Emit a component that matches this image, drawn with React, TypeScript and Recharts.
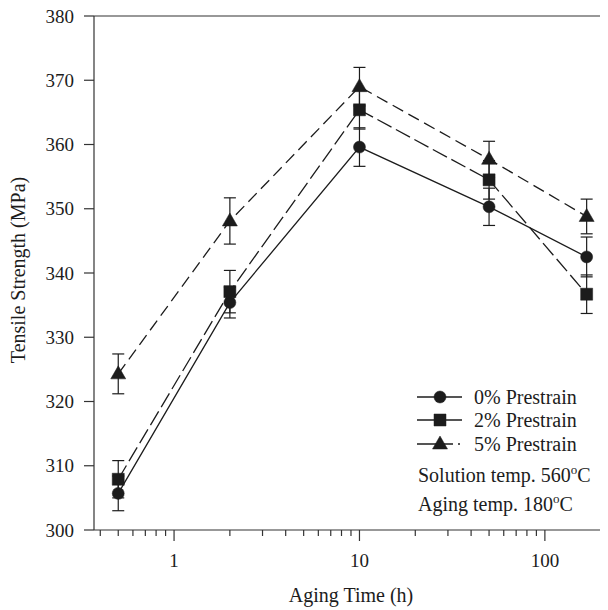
import React from 'react';
import { LineChart, Line, XAxis, YAxis, ErrorBar, ReferenceLine } from 'recharts';

const agingTime = [0.5, 2, 10, 50, 168];
const prestrain0 = [305.7, 335.4, 359.6, 350.3, 342.5];
const prestrain2 = [307.9, 337.1, 365.4, 354.5, 336.7];
const prestrain5 = [324.3, 348.1, 369.0, 357.7, 348.8];
const err0 = [2.7, 2.4, 3.0, 2.9, 3.1];
const err2 = [2.9, 3.3, 3.0, 3.0, 3.0];
const err5 = [3.1, 3.6, 3.0, 2.8, 2.7];

const yTicks = [300, 310, 320, 330, 340, 350, 360, 370, 380];
const xTicks = [0.4, 0.5, 0.6, 0.7, 0.8, 0.9, 1, 2, 3, 4, 5, 6, 7, 8, 9, 10, 20, 30, 40, 50, 60, 70, 80, 90, 100, 200];
const majorXTicks = [1, 10, 100];
const seriesNames = ['0% Prestrain', '2% Prestrain', '5% Prestrain'];

const data = agingTime.map((t, i) => ({
  t,
  p0: prestrain0[i],
  p2: prestrain2[i],
  p5: prestrain5[i],
  e0: err0[i],
  e2: err2[i],
  e5: err5[i],
}));

const INK = '#1c1c1c';
const FONT = 'Liberation Serif, Times New Roman, Times, DejaVu Serif, Noto Serif, serif';
const fontStyle = { fontFamily: FONT };

const circlePath = (cx: number, cy: number) =>
  `M${cx - 6},${cy} a6,6 0 1,0 12,0 a6,6 0 1,0 -12,0 Z`;
const squarePath = (cx: number, cy: number) =>
  `M${cx - 6},${cy - 6} h12 v12 h-12 Z`;
const trianglePath = (cx: number, cy: number) =>
  `M${cx},${cy - 8} L${cx + 7.5},${cy + 5} L${cx - 7.5},${cy + 5} Z`;

const makeDot = (fn: (x: number, y: number) => string, name: string) => (p: any) => {
  if (p.cx == null || p.cy == null) return <g key={`${name}-${p.index}`} />;
  return <path key={`${name}-${p.index}`} d={fn(p.cx, p.cy)} fill={INK} stroke={INK} strokeWidth={0.5} />;
};

const XTick = (props: any) => {
  const { x, y, payload } = props;
  const v = payload.value;
  const major = majorXTicks.includes(v);
  return (
    <g>
      <line x1={x} x2={x} y1={y} y2={y + (major ? 11 : 6)} stroke="#333" strokeWidth={1.2} />
      {major && (
        <text x={x} y={y + 37} textAnchor="middle" style={fontStyle} fontSize={19} fill={INK}>
          {String(v)}
        </text>
      )}
    </g>
  );
};

const YTick = (props: any) => {
  const { x, y, payload } = props;
  return (
    <text x={x} y={y + 6.5} textAnchor="end" style={fontStyle} fontSize={19} fill={INK}>
      {String(payload.value)}
    </text>
  );
};

const YLabel = () => (
  <text
    x={17}
    y={262}
    transform="rotate(-90 17 262)"
    textAnchor="middle"
    style={fontStyle}
    fontSize={20}
    fill={INK}
  >
    Tensile Strength (MPa)
  </text>
);

const XLabel = () => (
  <text x={343} y={594} textAnchor="middle" style={fontStyle} fontSize={20} fill={INK}>
    Aging Time (h)
  </text>
);

const LegendOverlay = () => {
  const rows = [389, 412, 436];
  const shapes = [circlePath, squarePath, trianglePath];
  return (
    <svg
      width={600}
      height={602}
      style={{ position: 'absolute', left: 0, top: 0, pointerEvents: 'none' }}
    >
      {rows.map((ry, i) => (
        <g key={seriesNames[i]}>
          {i < 2 ? (
            <line x1={409} x2={454} y1={ry} y2={ry} stroke={INK} strokeWidth={1.3} />
          ) : (
            <g>
              <line x1={409} x2={445} y1={ry} y2={ry} stroke={INK} strokeWidth={1.3} />
              <line x1={450} x2={452} y1={ry} y2={ry} stroke={INK} strokeWidth={1.3} />
            </g>
          )}
          <path d={shapes[i](432, ry)} fill={INK} stroke={INK} strokeWidth={0.5} />
          <text x={466} y={ry + 7} style={fontStyle} fontSize={20} fill={INK}>
            {seriesNames[i]}
          </text>
        </g>
      ))}
      <text x={410} y={474} style={fontStyle} fontSize={20} fill={INK}>
        Solution temp. 560
        <tspan fontSize={13} dy={-8}>o</tspan>
        <tspan dy={8}>C</tspan>
      </text>
      <text x={410} y={503} style={fontStyle} fontSize={20} fill={INK}>
        Aging temp. 180
        <tspan fontSize={13} dy={-8}>o</tspan>
        <tspan dy={8}>C</tspan>
      </text>
    </svg>
  );
};

export default function App() {
  return (
    <div style={{ position: 'relative', width: 600, height: 602, fontFamily: FONT }}>
      <LineChart
        width={600}
        height={602}
        data={data}
        margin={{ top: 8, right: 0, bottom: 0, left: 0 }}
        style={fontStyle}
      >
        <XAxis
          dataKey="t"
          type="number"
          scale="log"
          domain={[0.37, 219]}
          allowDataOverflow
          ticks={xTicks}
          interval={0}
          height={80}
          tickLine={false}
          tickSize={0}
          tickMargin={0}
          tick={<XTick />}
          axisLine={{ stroke: '#333', strokeWidth: 1.2 }}
          label={<XLabel />}
        />
        <YAxis
          type="number"
          domain={[300, 380]}
          ticks={yTicks}
          interval={0}
          width={86}
          tickSize={10}
          tickMargin={10}
          tickLine={{ stroke: '#333', strokeWidth: 1.2 }}
          axisLine={{ stroke: '#333', strokeWidth: 1.2 }}
          tick={<YTick />}
          label={<YLabel />}
        />
        <ReferenceLine y={380} stroke="#333" strokeWidth={1.2} ifOverflow="visible" />
        <Line
          dataKey="p0"
          name={seriesNames[0]}
          stroke={INK}
          strokeWidth={1.3}
          isAnimationActive={false}
          dot={makeDot(circlePath, 'c')}
          activeDot={false}
        >
          <ErrorBar dataKey="e0" direction="y" width={6} stroke={INK} strokeWidth={1.2} isAnimationActive={false} />
        </Line>
        <Line
          dataKey="p2"
          name={seriesNames[1]}
          stroke={INK}
          strokeWidth={1.3}
          strokeDasharray="16 5"
          isAnimationActive={false}
          dot={makeDot(squarePath, 's')}
          activeDot={false}
        >
          <ErrorBar dataKey="e2" direction="y" width={6} stroke={INK} strokeWidth={1.2} isAnimationActive={false} />
        </Line>
        <Line
          dataKey="p5"
          name={seriesNames[2]}
          stroke={INK}
          strokeWidth={1.3}
          strokeDasharray="12 6"
          isAnimationActive={false}
          dot={makeDot(trianglePath, 't')}
          activeDot={false}
        >
          <ErrorBar dataKey="e5" direction="y" width={6} stroke={INK} strokeWidth={1.2} isAnimationActive={false} />
        </Line>
      </LineChart>
      <LegendOverlay />
    </div>
  );
}
